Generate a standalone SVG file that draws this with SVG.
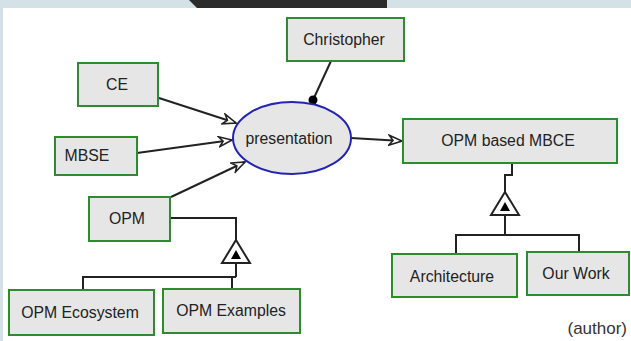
<svg xmlns="http://www.w3.org/2000/svg" width="631" height="341" viewBox="0 0 631 341">
<style>
.box{fill:#e6e6e6;stroke:#2e8b2e;stroke-width:2}
.ell{fill:#e6e6e6;stroke:#2424b4;stroke-width:2}
.t{font-family:"Liberation Sans",Arial,sans-serif;font-size:15.8px;fill:#222;text-anchor:middle;dominant-baseline:central}
.ln{fill:none;stroke:#222;stroke-width:2}
.tri{fill:#fff;stroke:#222;stroke-width:2}
</style>
<defs>
<marker id="ah" markerUnits="userSpaceOnUse" markerWidth="18" markerHeight="14" refX="14" refY="6" orient="auto">
<path d="M1,1 L14,6 L1,11 L5,6 Z" fill="#fff" stroke="#222" stroke-width="1.6"/>
</marker>
</defs>
<rect x="0" y="0" width="631" height="341" fill="#fff"/>
<rect x="0" y="0" width="631" height="8" fill="#d4e1e7"/>
<rect x="0" y="0" width="3" height="341" fill="#d4e1e7"/>
<path d="M189,0 L387,0 L387,8 L197,8 Z" fill="#2b2b2b"/>
<g id="connectors">
<line class="ln" x1="159" y1="98" x2="236" y2="123" marker-end="url(#ah)"/>
<line class="ln" x1="137" y1="153" x2="232" y2="140" marker-end="url(#ah)"/>
<line class="ln" x1="171" y1="197" x2="245" y2="162" marker-end="url(#ah)"/>
<line class="ln" x1="351" y1="138" x2="402" y2="141" marker-end="url(#ah)"/>
<line class="ln" x1="331" y1="61" x2="313" y2="100"/>
<circle cx="313" cy="100" r="4.5" fill="#000"/>
<polyline class="ln" points="171,218 236,218 236,240"/>
<polygon class="tri" points="236,240 250,263 222,263"/>
<polygon points="236,250 241,259 231,259" fill="#000"/>
<polyline class="ln" points="236,263 236,277"/>
<polyline class="ln" points="83,290 83,277 236,277"/>
<line class="ln" x1="232" y1="277" x2="232" y2="289"/>
<polyline class="ln" points="512,163 512,175 505,175 505,192"/>
<polygon class="tri" points="505,192 519,215 491,215"/>
<polygon points="505,202 510,211 500,211" fill="#000"/>
<line class="ln" x1="505" y1="215" x2="505" y2="235"/>
<polyline class="ln" points="456,254 456,235 579,235 579,252"/>
</g>
<g id="christopher"><rect class="box" x="287" y="18" width="117" height="43"/><text class="t" x="344" y="39">Christopher</text></g>
<g id="ce"><rect class="box" x="78" y="63" width="80" height="43"/><text class="t" x="117" y="84">CE</text></g>
<g id="mbse"><rect class="box" x="55" y="137" width="82" height="38"/><text class="t" x="87" y="155">MBSE</text></g>
<g id="opm"><rect class="box" x="89" y="197" width="81" height="44"/><text class="t" x="127" y="218">OPM</text></g>
<g id="presentation"><ellipse class="ell" cx="292" cy="138" rx="59" ry="36"/><text class="t" x="289" y="138">presentation</text></g>
<g id="mbce"><rect class="box" x="403" y="119" width="214" height="44"/><text class="t" x="508" y="140">OPM based MBCE</text></g>
<g id="architecture"><rect class="box" x="392" y="254" width="125" height="43"/><text class="t" x="452" y="276">Architecture</text></g>
<g id="ourwork"><rect class="box" x="527" y="252" width="102" height="43"/><text class="t" x="576" y="273">Our Work</text></g>
<g id="ecosystem"><rect class="box" x="9" y="290" width="145" height="45"/><text class="t" x="80" y="312">OPM Ecosystem</text></g>
<g id="examples"><rect class="box" x="163" y="289" width="137" height="44"/><text class="t" x="231" y="310">OPM Examples</text></g>
<text x="627" y="328" font-family="Liberation Sans,Arial,sans-serif" font-size="17" fill="#333" text-anchor="end" dominant-baseline="central">(author)</text>
</svg>
